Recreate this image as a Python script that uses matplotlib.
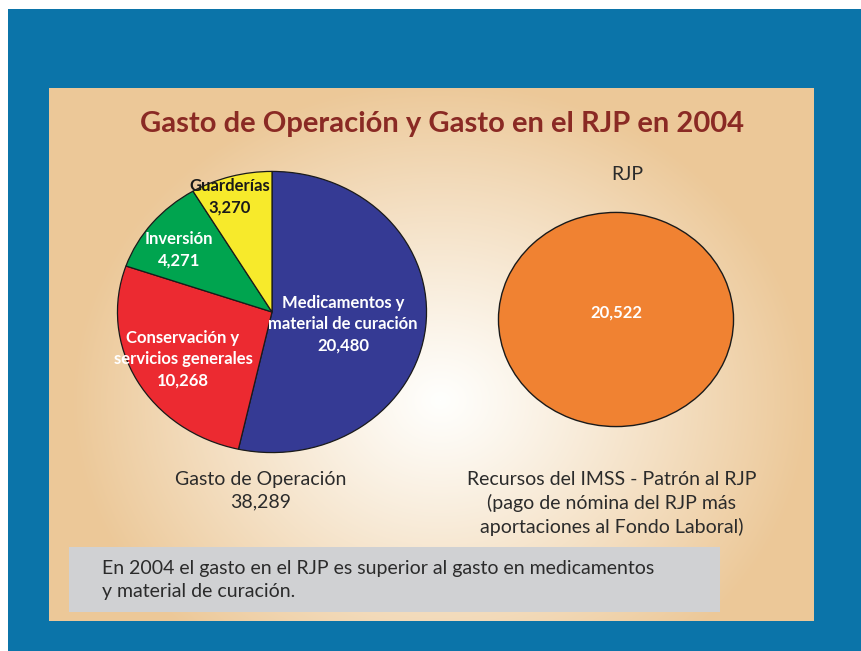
import numpy as np
import matplotlib
matplotlib.use("Agg")
import matplotlib.pyplot as plt
from matplotlib.patches import Rectangle

# datos (millones de pesos, 2004)
gasto_labels = ["Medicamentos y\nmaterial de curación", "Conservación y\nservicios generales",
                "Inversión", "Guarderías"]
gasto_values = [20480, 10268, 4271, 3270]
gasto_colors = ["#353a94", "#ec2a31", "#00a44f", "#f7ea2b"]
gasto_total = 38289
rjp_value = 20522

W, H = 862, 651
fig = plt.figure(figsize=(W / 100, H / 100), dpi=100)
fig.patch.set_facecolor("white")

ax = fig.add_axes([0, 0, 1, 1])
ax.set_xlim(0, W)
ax.set_ylim(H, 0)
ax.axis("off")

# fondo azul y panel con degradado radial
ax.add_patch(Rectangle((8, 9), W - 8, H - 9, facecolor="#0b74a9", edgecolor="none", zorder=0))
px0, py0, px1, py1 = 49, 88, 814, 621
xx, yy = np.meshgrid(np.arange(px0, px1), np.arange(py0, py1))
r = np.sqrt(((xx - 440) / 370.0) ** 2 + ((yy - 400) / 320.0) ** 2)
t = np.clip(r, 0, 1) ** 1.1
edge = np.array([236, 200, 152]) / 255.0
centre = np.array([255, 255, 253]) / 255.0
img = centre[None, None, :] * (1 - t[..., None]) + edge[None, None, :] * t[..., None]
ax.imshow(img, extent=(px0, px1, py1, py0), zorder=1, aspect="auto")

# caja gris
ax.add_patch(Rectangle((69, 547), 651, 65, facecolor="#d0d1d3", edgecolor="none", zorder=2))


def box(x0, y0, x1, y1):
    return [x0 / W, 1 - y1 / H, (x1 - x0) / W, (y1 - y0) / H]


# pastel del gasto de operación
ax1 = fig.add_axes(box(117, 171, 427, 453))
ax1.pie(gasto_values, colors=gasto_colors, startangle=90, counterclock=False,
        wedgeprops=dict(edgecolor="#1a1a1a", linewidth=0.9))
ax1.set_aspect("auto")
ax1.set_xlim(-1.003, 1.003)
ax1.set_ylim(-1.003, 1.003)
ax1.patch.set_alpha(0)

# RJP
ax2 = fig.add_axes(box(498, 212, 734, 427))
ax2.pie([rjp_value], colors=["#f08232"], startangle=90,
        wedgeprops=dict(edgecolor="#1a1a1a", linewidth=1.0))
ax2.set_aspect("auto")
ax2.set_xlim(-1.004, 1.004)
ax2.set_ylim(-1.004, 1.004)
ax2.patch.set_alpha(0)

# capa de textos encima de todo
tx = fig.add_axes([0, 0, 1, 1])
tx.set_xlim(0, W)
tx.set_ylim(H, 0)
tx.axis("off")

bold = ["Lato", "DejaVu Sans"]
reg = ["Lato", "DejaVu Sans"]

tx.text(442, 124, "Gasto de Operación y Gasto en el RJP en 2004", ha="center", va="center",
        fontsize=21, fontweight="bold", color="#8a2a24", family=bold)

lab_pos = [(343, 324), (183, 359), (179, 250), (230, 197)]
lab_col = ["white", "white", "white", "#1a1a1a"]
for lab, v, (x, y), c in zip(gasto_labels, gasto_values, lab_pos, lab_col):
    tx.text(x, y, f"{lab}\n{v:,}", ha="center", va="center", fontsize=12,
            fontweight="bold", color=c, family=bold, linespacing=1.4)

tx.text(616, 313, f"{rjp_value:,}", ha="center", va="center", fontsize=12,
        fontweight="bold", color="white", family=bold)
tx.text(627, 175, "RJP", ha="center", va="center", fontsize=14, color="#2b2b2b",
        family=reg)

tx.text(261, 490.5, f"Gasto de Operación\n{gasto_total:,}", ha="center", va="center",
        fontsize=14, color="#2b2b2b", family=reg, linespacing=1.42)
tx.text(612, 503.5, "Recursos del IMSS - Patrón al RJP\n(pago de nómina del RJP más\n"
        "aportaciones al Fondo Laboral)", ha="center", va="center",
        fontsize=14, color="#2b2b2b", family=reg, linespacing=1.42)
tx.text(102, 580, "En 2004 el gasto en el RJP es superior al gasto en medicamentos\n"
        "y material de curación.", ha="left", va="center",
        fontsize=14, color="#2b2b2b", family=reg, linespacing=1.48)

fig.savefig("out.png", dpi=100)
